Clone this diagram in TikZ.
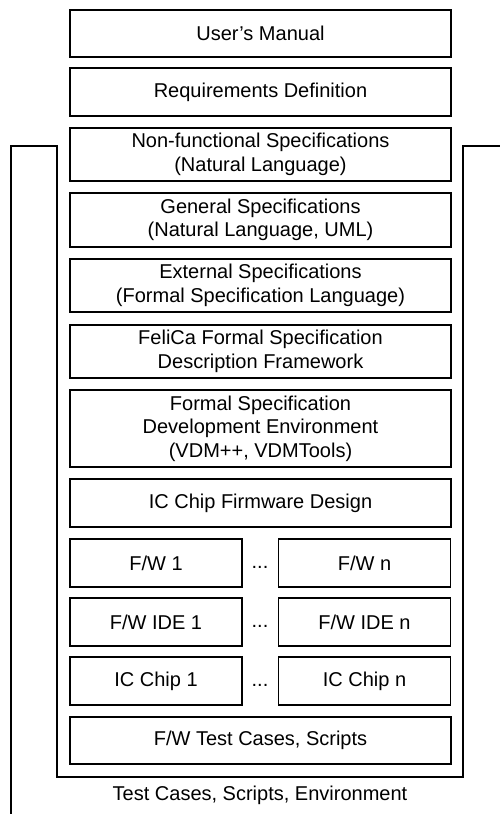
\documentclass[tikz,border=0pt]{standalone}
\usepackage{fontspec}
\setmainfont{Liberation Sans}
\begin{document}
\begin{tikzpicture}[x=1pt,y=-1pt,
  lbl/.style={font=\fontsize{20}{23.5}\selectfont, align=center, inner sep=0pt},
  wbox/.style={draw, line width=1.4pt, lbl, minimum width=381pt},
  sbox/.style={draw, line width=1.4pt, lbl, minimum width=172pt, minimum height=48pt},
  frame/.style={line width=1.5pt}]
\useasboundingbox (0,0) rectangle (501,814);
\node[wbox, minimum height=47pt] (manual) at (260.5,33.5) {User’s Manual};
\node[wbox, minimum height=48pt] (req) at (260.5,92) {Requirements Definition};
\node[wbox, minimum height=53pt] (nonfunc) at (260.5,154.5) {Non-functional Specifications\\(Natural Language)};
\node[wbox, minimum height=54pt] (general) at (260.5,220) {General Specifications\\(Natural Language, UML)};
\node[wbox, minimum height=53pt] (external) at (260.5,285.5) {External Specifications\\(Formal Specification Language)};
\node[wbox, minimum height=53pt] (felica) at (260.5,351.5) {FeliCa Formal Specification\\Description Framework};
\node[wbox, minimum height=77pt] (formal) at (260.5,428.5) {Formal Specification\\Development Environment\\(VDM++, VDMTools)};
\node[wbox, minimum height=48pt] (icdesign) at (260.5,503) {IC Chip Firmware Design};
\node[sbox] (fw1) at (156,563) {F/W 1};
\node[sbox] (fwn) at (364.5,563) {F/W n};
\node[sbox] (ide1) at (156,622) {F/W IDE 1};
\node[sbox] (iden) at (364.5,622) {F/W IDE n};
\node[sbox] (chip1) at (156,681) {IC Chip 1};
\node[sbox] (chipn) at (364.5,681) {IC Chip n};
\node[wbox, minimum height=47pt] (test) at (260.5,740.5) {F/W Test Cases, Scripts};
\node[lbl] (d1) at (260,567) {...};
\node[lbl] (d2) at (260,626) {...};
\node[lbl] (d3) at (260,685) {...};
\node[lbl] (env) at (260,795) {Test Cases, Scripts, Environment};
\coordinate (a) at (11,814);
\coordinate (b) at (11,146);
\coordinate (c) at (57,146);
\coordinate (d) at (57,777);
\coordinate (e) at (463,777);
\coordinate (f) at (463,146);
\coordinate (g) at (500,146);
\draw[frame] (a) -- (b) -- (c) -- (d) -- (e) -- (f) -- (g);
\end{tikzpicture}
\end{document}
